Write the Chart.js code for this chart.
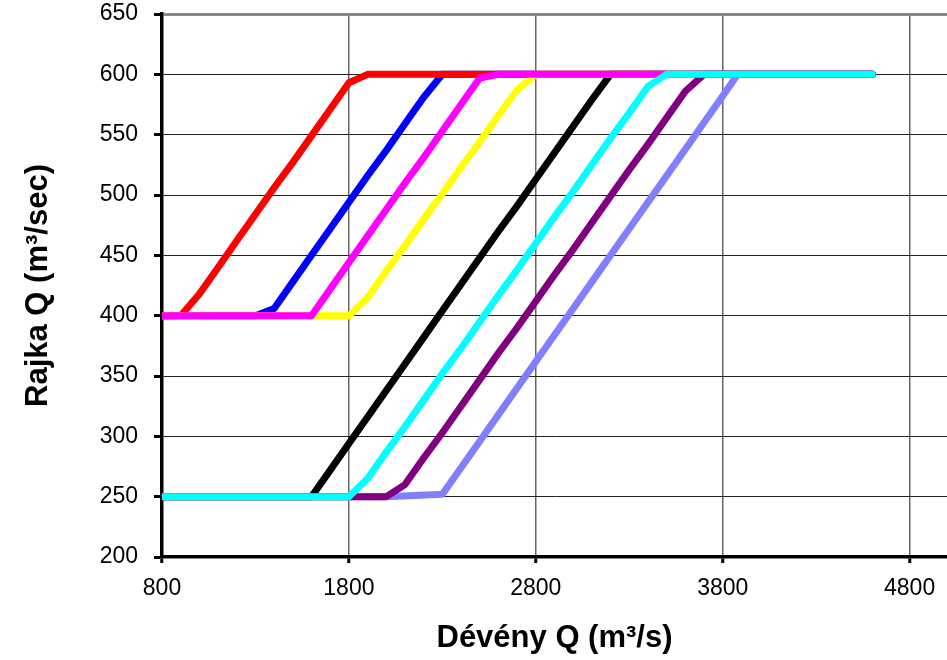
<!DOCTYPE html>
<html>
<head>
<meta charset="utf-8">
<script src="https://cdn.jsdelivr.net/npm/chart.js@4.4.1/dist/chart.umd.min.js"></script>
<style>
  html, body { margin: 0; padding: 0; background: #fff; overflow: hidden; }
  #wrap { width: 950px; height: 660px; }
</style>
</head>
<body>
<div id="wrap"><canvas id="c" width="950" height="660"></canvas></div>
<script>
// ---- Data ----
const xTickValues = [800, 1800, 2800, 3800, 4800];

const redX = [800, 900, 1000, 1100, 1200, 1300, 1400, 1500, 1600, 1700, 1800, 1900, 4600];
const redY = [400, 400, 418, 440, 462, 484, 506, 527, 549, 571, 593, 600, 600];

const blueX = [800, 1300, 1400, 1500, 1600, 1700, 1800, 1900, 2000, 2100, 2200, 2300, 4600];
const blueY = [400, 400, 406, 428, 450, 472, 494, 516, 537, 559, 581, 600, 600];

const magentaX = [800, 1600, 1700, 1800, 1900, 2000, 2100, 2200, 2300, 2400, 2500, 2600, 4600];
const magentaY = [400, 400, 422, 444, 466, 488, 510, 531, 553, 575, 597, 600, 600];

const yellowX = [800, 1800, 1900, 2000, 2100, 2200, 2300, 2400, 2500, 2600, 2700, 2800, 4600];
const yellowY = [400, 400, 415, 437, 458, 480, 501, 523, 544, 566, 587, 600, 600];

const blackX = [800, 1600, 1700, 1800, 1900, 2000, 2100, 2200, 2300, 2400, 2500, 2600, 2700, 2800, 2900, 3000, 3100, 3200, 4600];
const blackY = [250, 250, 272, 294, 316, 338, 360, 382, 404, 426, 448, 470, 491, 513, 535, 557, 579, 600, 600];

const cyanX = [800, 1800, 1900, 2000, 2100, 2200, 2300, 2400, 2500, 2600, 2700, 2800, 2900, 3000, 3100, 3200, 3300, 3400, 3500, 4600];
const cyanY = [250, 250, 265, 287, 308, 330, 352, 373, 395, 417, 438, 460, 482, 503, 525, 547, 568, 590, 600, 600];

const purpleX = [800, 2000, 2100, 2200, 2300, 2400, 2500, 2600, 2700, 2800, 2900, 3000, 3100, 3200, 3300, 3400, 3500, 3600, 3700, 4600];
const purpleY = [250, 250, 260, 282, 303, 325, 347, 369, 390, 412, 434, 455, 477, 499, 521, 542, 564, 586, 600, 600];

const lightBlueX = [800, 2000, 2300, 2400, 2500, 2600, 2700, 2800, 2900, 3000, 3100, 3200, 3300, 3400, 3500, 3600, 3700, 3800, 3880, 4600];
const lightBlueY = [250, 250, 252, 274, 296, 318, 340, 362, 384, 406, 428, 450, 472, 494, 516, 538, 560, 582, 600, 600];

// ---- Build datasets ----
function pts(xs, ys) { return xs.map((x, i) => ({ x: x, y: ys[i] })); }
function series(label, xs, ys, color, order) {
  return {
    label: label,
    data: pts(xs, ys),
    borderColor: color,
    backgroundColor: color,
    borderWidth: 7,
    pointRadius: 0,
    pointHoverRadius: 0,
    tension: 0,
    fill: false,
    borderCapStyle: 'round',
    borderJoinStyle: 'round',
    clip: { left: 0, top: 6, right: 6, bottom: 6 },
    order: order
  };
}

// lower order = drawn on top
const datasets = [
  series('cyan', cyanX, cyanY, '#00FFFF', 0),
  series('purple', purpleX, purpleY, '#800080', 1),
  series('lightblue', lightBlueX, lightBlueY, '#8080FF', 2),
  series('magenta', magentaX, magentaY, '#FF00FF', 3),
  series('yellow', yellowX, yellowY, '#FFFF00', 4),
  series('red', redX, redY, '#FF0000', 5),
  series('blue', blueX, blueY, '#0000FF', 6),
  series('black', blackX, blackY, '#000000', 7)
];

const FONT = "'Liberation Sans', Arial, Helvetica, sans-serif";

new Chart(document.getElementById('c'), {
  type: 'line',
  data: { datasets: datasets },
  options: {
    responsive: false,
    animation: false,
    events: [],
    layout: { padding: { left: 0, right: 3, top: 14, bottom: 0 } },
    plugins: { legend: { display: false }, tooltip: { enabled: false }, title: { display: false } },
    scales: {
      x: {
        type: 'linear',
        min: 800,
        max: 5000,
        afterBuildTicks: s => { s.ticks = xTickValues.map(v => ({ value: v })); },
        afterFit: s => { s.height = 103; s.paddingLeft = 0; s.paddingRight = 0; },
        ticks: { font: { family: FONT, size: 23 }, color: '#000', padding: 12, maxRotation: 0, autoSkip: false,
                 callback: v => String(v) },
        grid: { color: '#666', lineWidth: 1.5, tickLength: 6, tickColor: '#000', tickWidth: 3 },
        border: { display: true, color: '#000', width: 3.5 },
        title: {
          display: true,
          text: 'Dévény Q (m³/s)',
          font: { family: FONT, size: 31, weight: 'bold' },
          color: '#000',
          padding: { top: 0, bottom: 3 }
        }
      },
      y: {
        type: 'linear',
        min: 200,
        max: 650,
        afterFit: s => { s.width = 162; s.paddingTop = 0; s.paddingBottom = 0; },
        ticks: { stepSize: 50, font: { family: FONT, size: 23 }, color: '#000', padding: 16,
                 callback: v => String(v) },
        grid: {
          color: c => (c.tick && c.tick.value === 650) ? '#888' : '#222',
          lineWidth: c => (c.tick && c.tick.value === 650) ? 3 : 1,
          tickLength: 8, tickColor: '#000', tickWidth: 3
        },
        border: { display: true, color: '#000', width: 3.5 },
        title: {
          display: true,
          text: 'Rajka Q (m³/sec)',
          font: { family: FONT, size: 31, weight: 'bold' },
          color: '#000',
          padding: { top: 20, bottom: 0 }
        }
      }
    }
  }
});
</script>
</body>
</html>
